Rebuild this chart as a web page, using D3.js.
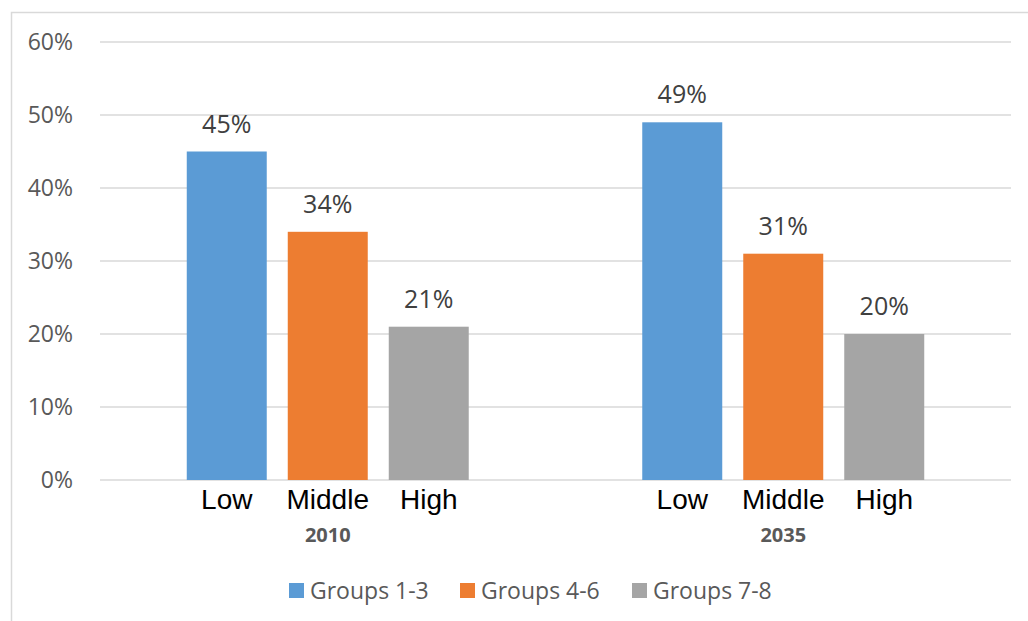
<!DOCTYPE html>
<html>
<head>
<meta charset="utf-8">
<script src="https://cdn.jsdelivr.net/npm/d3@7"></script>
<style>
  body { margin: 0; background: #fff; }
  svg { display: block; }
</style>
</head>
<body>
<div id="chart"></div>
<script>
// Dati
const years = ["2010", "2035"];
const levels = ["Low", "Middle", "High"];
const series = ["Groups 1-3", "Groups 4-6", "Groups 7-8"];
const values2010 = [0.45, 0.34, 0.21];
const values2035 = [0.49, 0.31, 0.20];
const yTicks = [0, 0.1, 0.2, 0.3, 0.4, 0.5, 0.6];
const colors = ["#5B9BD5", "#ED7D31", "#A5A5A5"];

const width = 1028;
const height = 621;
const margin = { left: 100, right: 17, top: 42, bottom: 141 };

const svg = d3.select("#chart")
    .append("svg")
    .attr("width", width)
    .attr("height", height);

// Cornice del grafico
svg.append("path")
    .attr("d", `M11.5,${height} V12.5 H${width}`)
    .attr("fill", "none")
    .attr("stroke", "#D9D9D9")
    .attr("stroke-width", 1.5);

// Scale
const x0 = d3.scaleBand()
    .domain(years)
    .range([margin.left, width - margin.right]);

const x1 = d3.scaleBand()
    .domain(levels)
    .range([0, x0.bandwidth()])
    .paddingInner(0.208)
    .paddingOuter(0.859);

const y = d3.scaleLinear()
    .domain([0, 0.6])
    .range([height - margin.bottom, margin.top]);

// Griglia
svg.append("g")
    .selectAll("line")
    .data(yTicks)
    .join("line")
    .attr("x1", margin.left)
    .attr("x2", width - margin.right)
    .attr("y1", d => y(d))
    .attr("y2", d => y(d))
    .attr("stroke", "#D9D9D9")
    .attr("stroke-width", 1.5);

// Etichette asse y
svg.append("g")
    .selectAll("text")
    .data(yTicks)
    .join("text")
    .attr("x", 73)
    .attr("y", d => y(d))
    .attr("dy", "0.35em")
    .attr("text-anchor", "end")
    .attr("font-family", "Open Sans, sans-serif")
    .attr("font-size", "23px")
    .attr("fill", "#595959")
    .text(d => d3.format(".0%")(d));

// Barre
const rows = [values2010, values2035];
years.forEach((yr, i) => {
    const g = svg.append("g")
        .attr("transform", `translate(${x0(yr)},0)`);

    g.selectAll("rect")
        .data(rows[i])
        .join("rect")
        .attr("x", (d, j) => x1(levels[j]))
        .attr("width", x1.bandwidth())
        .attr("y", d => y(d))
        .attr("height", d => y(0) - y(d))
        .attr("fill", (d, j) => colors[j]);

    g.selectAll("text.val")
        .data(rows[i])
        .join("text")
        .attr("class", "val")
        .attr("x", (d, j) => x1(levels[j]) + x1.bandwidth() / 2)
        .attr("y", d => y(d) - 19)
        .attr("text-anchor", "middle")
        .attr("font-family", "Open Sans, sans-serif")
        .attr("font-size", "25px")
        .attr("fill", "#404040")
        .text(d => d3.format(".0%")(d));

    g.selectAll("text.lvl")
        .data(levels)
        .join("text")
        .attr("class", "lvl")
        .attr("x", d => x1(d) + x1.bandwidth() / 2)
        .attr("y", 509)
        .attr("text-anchor", "middle")
        .attr("font-family", "Liberation Sans, Arial, sans-serif")
        .attr("font-size", "28px")
        .attr("fill", "#000")
        .text(d => d);

    g.append("text")
        .attr("x", x0.bandwidth() / 2)
        .attr("y", 542)
        .attr("text-anchor", "middle")
        .attr("font-family", "Open Sans, sans-serif")
        .attr("font-weight", "bold")
        .attr("font-size", "20px")
        .attr("fill", "#595959")
        .text(yr);
});

// Legenda
const legendX = [289, 460, 632];
const legend = svg.append("g")
    .selectAll("g")
    .data(series)
    .join("g")
    .attr("transform", (d, i) => `translate(${legendX[i]},583)`);

legend.append("rect")
    .attr("width", 15)
    .attr("height", 15)
    .attr("fill", (d, i) => colors[i]);

legend.append("text")
    .attr("x", 21)
    .attr("y", 7.5)
    .attr("dy", "0.35em")
    .attr("font-family", "Open Sans, sans-serif")
    .attr("font-size", "23px")
    .attr("fill", "#595959")
    .text(d => d);
</script>
</body>
</html>
